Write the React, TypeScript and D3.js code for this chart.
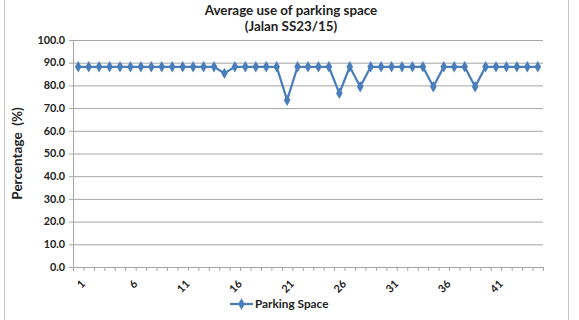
import React from "react";
import * as d3 from "d3";

// Average occupancy per parking bay, bays 1..45
const bays: number[] = d3.range(1, 46);
const occupancy: number[] = [
  88.2, 88.2, 88.2, 88.2, 88.2, 88.2, 88.2, 88.2, 88.2, 88.2,
  88.2, 88.2, 88.2, 88.2, 85.3, 88.2, 88.2, 88.2, 88.2, 88.2,
  73.5, 88.2, 88.2, 88.2, 88.2, 76.5, 88.2, 79.4, 88.2, 88.2,
  88.2, 88.2, 88.2, 88.2, 79.4, 88.2, 88.2, 88.2, 79.4, 88.2,
  88.2, 88.2, 88.2, 88.2, 88.2,
];
const yTicks: number[] = [0, 10, 20, 30, 40, 50, 60, 70, 80, 90, 100];
const xLabelBays: number[] = [1, 6, 11, 16, 21, 26, 31, 36, 41];
const titleLines: string[] = ["Average use of parking space", "(Jalan SS23/15)"];
const yTitle = "Percentage  (%)";
const seriesName = "Parking Space";

const W = 579;
const H = 320;
const plot = { left: 73, right: 543, top: 40, bottom: 267 };
const blue = "#4a7ebb";
const grid = "#a6a6a6";
const font = "Lato, 'Open Sans', sans-serif";

export default function App() {
  const x = d3
    .scaleBand<number>()
    .domain(bays)
    .range([plot.left, plot.right])
    .paddingInner(0)
    .paddingOuter(0);
  const y = d3.scaleLinear().domain([0, 100]).range([plot.bottom, plot.top]);
  const cx = (b: number) => (x(b) as number) + x.bandwidth() / 2;

  const line = d3
    .line<number>()
    .x((_, i) => cx(bays[i]))
    .y((v) => y(v));

  const diamond = d3.symbol().type(d3.symbolDiamond).size(38)();

  const boundaries = d3.range(0, bays.length + 1).map(
    (i) => plot.left + i * x.bandwidth()
  );

  return (
    <svg
      width={W}
      height={H}
      style={{ position: "absolute", left: 0, top: 0, background: "#fff" }}
      fontFamily={font}
    >
      <rect x={4.5} y={-2} width={564} height={H + 4} fill="#fff" stroke="#c8c8c8" strokeWidth={1} />

      {titleLines.map((t, i) => (
        <text
          key={t}
          x={291}
          y={15 + i * 15.5}
          textAnchor="middle"
          fontSize={13.4}
          fontWeight="bold"
          fill="#222"
        >
          {t}
        </text>
      ))}

      {/* horizontal gridlines and y tick labels */}
      {yTicks.map((t) => (
        <g key={t}>
          {t > 0 && (
            <line
              x1={plot.left}
              x2={plot.right}
              y1={y(t) + 0.5}
              y2={y(t) + 0.5}
              stroke={grid}
              strokeWidth={1}
            />
          )}
          <line x1={plot.left - 4} x2={plot.left} y1={y(t) + 0.5} y2={y(t) + 0.5} stroke={grid} />
          <text
            x={plot.left - 8}
            y={y(t)}
            dy="0.35em"
            textAnchor="end"
            fontSize={10.8}
            fontWeight="bold"
            fill="#222"
          >
            {t.toFixed(1)}
          </text>
        </g>
      ))}

      {/* axes */}
      <line x1={plot.left + 0.5} x2={plot.left + 0.5} y1={plot.top} y2={plot.bottom} stroke={grid} />
      <line x1={plot.left} x2={plot.right} y1={plot.bottom + 0.5} y2={plot.bottom + 0.5} stroke={grid} />
      {boundaries.map((bx, i) => (
        <line
          key={i}
          x1={bx + 0.5}
          x2={bx + 0.5}
          y1={plot.bottom}
          y2={plot.bottom + 4}
          stroke={grid}
        />
      ))}

      {xLabelBays.map((b) => (
        <text
          key={b}
          transform={`translate(${cx(b) + 5},${plot.bottom + 15}) rotate(-45)`}
          textAnchor="end"
          dy="0.35em"
          fontSize={10.8}
          fontWeight="bold"
          fill="#222"
        >
          {b}
        </text>
      ))}

      <text
        transform={`translate(22,${(plot.top + plot.bottom) / 2}) rotate(-90)`}
        textAnchor="middle"
        fontSize={13.5}
        fontWeight="bold"
        fill="#222"
        style={{ whiteSpace: "pre" }}
      >
        {yTitle}
      </text>

      {/* series */}
      <path d={line(occupancy) ?? ""} fill="none" stroke={blue} strokeWidth={2.25} strokeLinejoin="round" />
      {occupancy.map((v, i) => (
        <path key={i} d={diamond ?? ""} transform={`translate(${cx(bays[i])},${y(v)})`} fill={blue} />
      ))}

      {/* legend */}
      <line x1={230} x2={253} y1={304} y2={304} stroke={blue} strokeWidth={2.25} />
      <path d={diamond ?? ""} transform="translate(241.5,304)" fill={blue} />
      <text x={255} y={304} dy="0.35em" fontSize={11.8} fontWeight="bold" fill="#222">
        {seriesName}
      </text>
    </svg>
  );
}
